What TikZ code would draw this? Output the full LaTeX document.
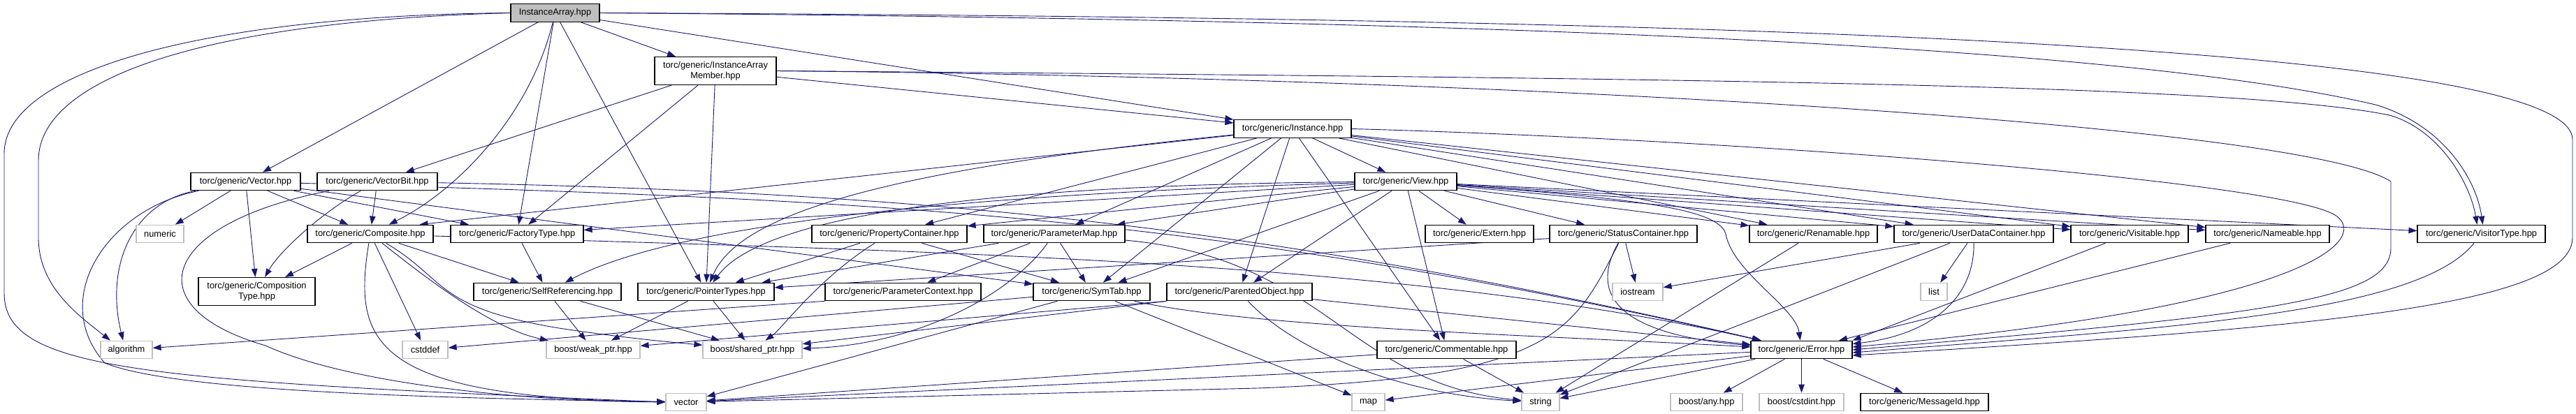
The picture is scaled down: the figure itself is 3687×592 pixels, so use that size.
\documentclass[tikz,border=0pt]{standalone}
\usepackage{fontspec}
\setmainfont{Liberation Sans}
\usetikzlibrary{arrows.meta,backgrounds,calc}

\begin{document}
\begin{tikzpicture}[x=1pt, y=-1pt,
    hdr/.style={draw=borderColour, line width=1.2pt, fill=white, inner sep=0pt,
        minimum height=25.5pt, font=\fontsize{12.85}{15.2}\selectfont},
    sys/.style={hdr, draw=sysColour},
    twoline/.style={hdr, minimum height=40pt, align=center},
    dep/.style={draw=edgeColour, line width=0.9pt, -{Triangle[length=12pt,width=8.5pt]}}]
    \definecolor{edgeColour}{HTML}{191970}
    \definecolor{borderColour}{HTML}{000000}
    \definecolor{sysColour}{HTML}{BFBFBF}
    \definecolor{fillColour}{HTML}{BFBFBF}

    \useasboundingbox (0,0) rectangle (3687,592);

    % Header being documented
    \node[hdr, fill=fillColour, minimum width=127pt] (ia) at (794.5,18.5) {InstanceArray.hpp};

    % Rank 1 and 2
    \node[twoline, minimum width=174pt] (iam) at (1024,101.5) {torc/generic/InstanceArray\\Member.hpp};
    \node[hdr, minimum width=168pt] (instance) at (1850,184.5) {torc/generic/Instance.hpp};

    % Rank 3
    \node[hdr, minimum width=157pt] (vec) at (351.5,260) {torc/generic/Vector.hpp};
    \node[hdr, minimum width=172pt] (vectorbit) at (540,260) {torc/generic/VectorBit.hpp};
    \node[hdr, minimum width=146pt] (view) at (2012,260) {torc/generic/View.hpp};

    % Rank 4
    \node[sys, minimum width=68pt] (numeric) at (229,335) {numeric};
    \node[hdr, minimum width=180pt] (composite) at (530,335) {torc/generic/Composite.hpp};
    \node[hdr, minimum width=190pt] (factory) at (740,335) {torc/generic/FactoryType.hpp};
    \node[hdr, minimum width=222pt] (propcont) at (1273,335) {torc/generic/PropertyContainer.hpp};
    \node[hdr, minimum width=202pt] (parammap) at (1509,335) {torc/generic/ParameterMap.hpp};
    \node[hdr, minimum width=155pt] (extern) at (2117.5,335) {torc/generic/Extern.hpp};
    \node[hdr, minimum width=211pt] (statuscont) at (2323.5,335) {torc/generic/StatusContainer.hpp};
    \node[hdr, minimum width=183pt] (renamable) at (2595.5,335) {torc/generic/Renamable.hpp};
    \node[hdr, minimum width=228pt] (userdata) at (2825,335) {torc/generic/UserDataContainer.hpp};
    \node[hdr, minimum width=168pt] (visitable) at (3048,335) {torc/generic/Visitable.hpp};
    \node[hdr, minimum width=177pt] (nameable) at (3245.5,335) {torc/generic/Nameable.hpp};
    \node[hdr, minimum width=183pt] (visitor) at (3551.5,335) {torc/generic/VisitorType.hpp};

    % Rank 5
    \node[twoline, minimum width=167pt] (comptype) at (367.5,417.5) {torc/generic/Composition\\Type.hpp};
    \node[hdr, minimum width=211pt] (selfref) at (783.5,418) {torc/generic/SelfReferencing.hpp};
    \node[hdr, minimum width=195pt] (pointer) at (1010.5,418) {torc/generic/PointerTypes.hpp};
    \node[hdr, minimum width=223pt] (paramctx) at (1292.5,418) {torc/generic/ParameterContext.hpp};
    \node[hdr, minimum width=167pt] (symtab) at (1562.5,418) {torc/generic/SymTab.hpp};
    \node[hdr, minimum width=208pt] (parented) at (1774,418) {torc/generic/ParentedObject.hpp};
    \node[sys, minimum width=72pt] (iostream) at (2344,418) {iostream};
    \node[sys, minimum width=38pt] (list) at (2768,418) {list};

    % Rank 6
    \node[sys, minimum width=74pt] (algorithm) at (181,501) {algorithm};
    \node[sys, minimum width=65pt] (cstddef) at (608.5,501) {cstddef};
    \node[sys, minimum width=134pt] (weakptr) at (849,501) {boost/weak\_ptr.hpp};
    \node[sys, minimum width=142pt] (sharedptr) at (1077,501) {boost/shared\_ptr.hpp};
    \node[hdr, minimum width=199pt] (commentable) at (2070.5,501) {torc/generic/Commentable.hpp};
    \node[hdr, minimum width=145pt] (error) at (2578.5,501) {torc/generic/Error.hpp};

    % Rank 7
    \node[sys, minimum width=58pt] (vector) at (982,576) {vector};
    \node[sys, minimum width=47pt] (map) at (1958.5,576) {map};
    \node[sys, minimum width=54pt] (string) at (2205,576) {string};
    \node[sys, minimum width=103pt] (boostany) at (2442.5,576) {boost/any.hpp};
    \node[sys, minimum width=121pt] (cstdint) at (2578.5,576) {boost/cstdint.hpp};
    \node[hdr, minimum width=183pt] (messageid) at (2754.5,576) {torc/generic/MessageId.hpp};

    \begin{pgfonlayer}{background}
    % InstanceArray.hpp
    \draw[dep] (ia.west) .. controls (300,22) and (6,100) .. (6,220) -- (6,420) .. controls (6,530) and (200,545) .. (vector.west);
    \draw[dep] (ia.west) .. controls (300,30) and (55,110) .. (55,230) -- (55,340) .. controls (55,410) and (110,450) .. (algorithm.150);
    \draw[dep] (ia) -- (vec);
    \draw[dep] (ia) .. controls (760,160) and (660,270) .. (composite);
    \draw[dep] (ia) -- (factory);
    \draw[dep] (ia) -- (pointer);
    \draw[dep] (ia) -- (iam);
    \draw[dep] (ia) -- (instance);
    \draw[dep] (ia.east) .. controls (2400,30) and (3100,80) .. (3400,150) .. controls (3500,180) and (3545,260) .. ($(visitor.north)+(2,0)$);
    \draw[dep] (ia.east) .. controls (2400,25) and (3682,60) .. (3682,200) -- (3682,340) .. controls (3682,440) and (3300,470) .. ($(error.east)+(0,8)$);

    % InstanceArrayMember.hpp
    \draw[dep] (iam) -- (vectorbit);
    \draw[dep] (iam) -- (factory);
    \draw[dep] (iam) -- (pointer);
    \draw[dep] (iam) -- (instance);
    \draw[dep] (iam.east) .. controls (2400,112) and (3200,120) .. (3420,165) .. controls (3490,185) and (3535,260) .. ($(visitor.north)+(-6,0)$);
    \draw[dep] (iam.east) .. controls (2200,112) and (3300,180) .. (3422,260) -- (3422,355) .. controls (3422,430) and (3250,450) .. (error.east);

    % Instance.hpp
    \draw[dep] (instance) -- ($(composite.north east)+(-20,0)$);
    \draw[dep] (instance) .. controls (1300,240) and (1060,300) .. (pointer);
    \draw[dep] (instance) -- (propcont);
    \draw[dep] (instance) -- (parammap);
    \draw[dep] (instance) -- (symtab);
    \draw[dep] (instance) -- (parented);
    \draw[dep] (instance) -- (commentable);
    \draw[dep] (instance) -- (view);
    \draw[dep] (instance) -- (renamable);
    \draw[dep] (instance) -- (userdata);
    \draw[dep] (instance) -- (visitable);
    \draw[dep] (instance) -- (nameable);
    \draw[dep] (instance.east) .. controls (2500,200) and (3280,260) .. (3345,310) .. controls (3390,345) and (3300,440) .. ($(error.east)+(0,-4)$);

    % Vector.hpp and VectorBit.hpp
    \draw[dep] (vec) .. controls (190,290) and (150,380) .. (algorithm.110);
    \draw[dep] (vec) .. controls (150,300) and (70,430) .. (150,520) .. controls (250,560) and (600,570) .. (vector);
    \draw[dep] (vec) -- (numeric);
    \draw[dep] (vec) -- (comptype);
    \draw[dep] (vec) -- (composite);
    \draw[dep] (vec) -- (factory);
    \draw[dep] (vec) -- (symtab);
    \draw[dep] (vec) .. controls (1200,285) and (1700,300) .. (error);
    \draw[dep] (vectorbit) .. controls (460,305) and (400,360) .. (comptype);
    \draw[dep] (vectorbit) .. controls (230,320) and (190,440) .. (380,495) .. controls (500,550) and (750,575) .. (vector);
    \draw[dep] (vectorbit) -- (composite);
    \draw[dep] (vectorbit) .. controls (1300,275) and (1800,320) .. (error);

    % View.hpp
    \draw[dep] (view) -- (factory);
    \draw[dep] (view) .. controls (1400,265) and (1090,310) .. (pointer);
    \draw[dep] (view) -- (propcont);
    \draw[dep] (view) -- (parammap);
    \draw[dep] (view) .. controls (1300,280) and (950,330) .. (selfref);
    \draw[dep] (view) -- (symtab);
    \draw[dep] (view) -- (parented);
    \draw[dep] (view) -- (commentable);
    \draw[dep] (view) -- (extern);
    \draw[dep] (view) -- (statuscont);
    \draw[dep] (view) -- (renamable);
    \draw[dep] (view) -- (userdata);
    \draw[dep] (view) -- (visitable);
    \draw[dep] (view) -- (nameable);
    \draw[dep] (view) -- (visitor);
    \draw[dep] (view) .. controls (2350,285) and (2460,300) .. (2470,335) .. controls (2480,390) and (2570,440) .. (error);

    % Composite.hpp
    \draw[dep] (composite) -- (comptype);
    \draw[dep] (composite) -- (selfref);
    \draw[dep] (composite) -- (cstddef);
    \draw[dep] (composite) .. controls (505,490) and (530,570) .. (vector);
    \draw[dep] (composite) .. controls (600,390) and (700,470) .. (weakptr);
    \draw[dep] (composite) .. controls (640,400) and (620,440) .. (800,470) .. controls (900,485) and (960,490) .. (sharedptr);
    \draw[dep] (composite) .. controls (1300,360) and (2000,370) .. (error);

    % Rank 4 headers
    \draw[dep] (factory) -- (selfref);
    \draw[dep] (propcont) -- (pointer);
    \draw[dep] (propcont) -- (symtab);
    \draw[dep] (propcont) .. controls (1170,400) and (1120,470) .. (sharedptr);
    \draw[dep] (parammap) -- (pointer);
    \draw[dep] (parammap) -- (paramctx);
    \draw[dep] (parammap) -- (symtab);
    \draw[dep] (parammap) .. controls (1440,430) and (1300,495) .. (sharedptr);
    \draw[dep] (parammap) .. controls (1900,370) and (1930,550) .. (string);
    \draw[dep] (statuscont) -- (pointer);
    \draw[dep] (statuscont) -- (iostream);
    \draw[dep] (statuscont) .. controls (2250,480) and (2220,540) .. (1800,556) -- (vector);
    \draw[dep] (statuscont) .. controls (2270,430) and (2330,480) .. (error);
    \draw[dep] (renamable) -- (string);
    \draw[dep] (userdata) -- (iostream);
    \draw[dep] (userdata) -- (list);
    \draw[dep] (userdata) -- (string);
    \draw[dep] (userdata) .. controls (2826,430) and (2760,480) .. (error);
    \draw[dep] (visitable) -- (error.north east);
    \draw[dep] (nameable) -- (error);
    \draw[dep] (visitor) .. controls (3460,450) and (3100,470) .. ($(error.east)+(0,4)$);

    % Rank 5 headers
    \draw[dep] (selfref) -- (weakptr);
    \draw[dep] (selfref) -- (sharedptr);
    \draw[dep] (pointer) -- (weakptr);
    \draw[dep] (pointer) -- (sharedptr);
    \draw[dep] (paramctx.south west) -- (algorithm);
    \draw[dep] (symtab) -- (cstddef);
    \draw[dep] (symtab) -- (vector);
    \draw[dep] (symtab) -- (map);
    \draw[dep] (symtab) .. controls (1800,470) and (2200,480) .. (error);
    \draw[dep] (parented.south west) -- (weakptr);
    \draw[dep] (parented.south west) -- (sharedptr);
    \draw[dep] (parented) .. controls (1850,500) and (2000,565) .. (string);
    \draw[dep] (parented) -- (error);

    % Rank 6 headers
    \draw[dep] (commentable) -- (vector);
    \draw[dep] (commentable) -- (string);
    \draw[dep] (error) -- (vector);
    \draw[dep] (error) -- (map);
    \draw[dep] (error) -- (string);
    \draw[dep] (error) -- (boostany);
    \draw[dep] (error) -- (cstdint);
    \draw[dep] (error) -- (messageid);
    \end{pgfonlayer}

\end{tikzpicture}
\end{document}
